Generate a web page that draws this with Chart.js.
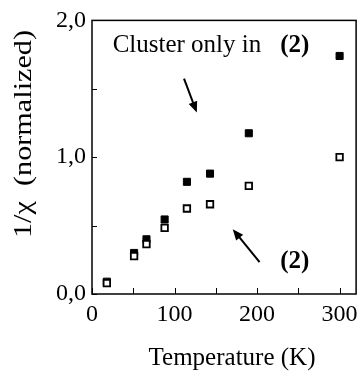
<!DOCTYPE html>
<html>
<head>
<meta charset="utf-8">
<script src="https://cdn.jsdelivr.net/npm/chart.js@4/dist/chart.umd.min.js"></script>
<style>
  html, body { margin: 0; padding: 0; background: #fff; }
  #wrap { width: 364px; height: 372px; }
</style>
</head>
<body>
<div id="wrap"><canvas id="grafico"></canvas></div>
<script>
// temperaturas (K) e 1/chi normalizado
const temperaturas = [18, 51, 66, 88, 115, 143, 190, 300];
const cheios = [0.09, 0.30, 0.40, 0.545, 0.82, 0.88, 1.175, 1.74];   // cluster (preenchido)
const abertos = [0.08, 0.277, 0.365, 0.483, 0.625, 0.656, 0.79, 1.0]; // (2) (vazio)
const ticksX = [0, 100, 200, 300];
const ticksY = [0, 1, 2];

const SERIF = '"Liberation Serif", serif';

const pontos = arr => arr.map((v, i) => ({ x: temperaturas[i], y: v }));

function seta(ctx, x1, y1, x2, y2) {
  const ang = Math.atan2(y2 - y1, x2 - x1);
  const len = 11, half = 4.5;
  ctx.beginPath();
  ctx.moveTo(x1, y1);
  ctx.lineTo(x2 - Math.cos(ang) * len * 0.8, y2 - Math.sin(ang) * len * 0.8);
  ctx.lineWidth = 2;
  ctx.stroke();
  ctx.beginPath();
  ctx.moveTo(x2, y2);
  ctx.lineTo(x2 - Math.cos(ang) * len - Math.sin(ang) * half, y2 - Math.sin(ang) * len + Math.cos(ang) * half);
  ctx.lineTo(x2 - Math.cos(ang) * len + Math.sin(ang) * half, y2 - Math.sin(ang) * len - Math.cos(ang) * half);
  ctx.closePath();
  ctx.fill();
}

// moldura, marcas internas, títulos e anotações
const extras = {
  id: 'extras',
  afterDraw(chart) {
    const { ctx, chartArea: a, scales } = chart;
    const sx = scales.x, sy = scales.y;
    ctx.save();
    ctx.strokeStyle = '#000';
    ctx.fillStyle = '#000';
    ctx.lineWidth = 1.5;
    ctx.strokeRect(a.left, a.top, a.right - a.left, a.bottom - a.top);

    ctx.lineWidth = 1;
    sx.ticks.forEach(t => {
      const px = Math.round(sx.getPixelForValue(t.value)) + 0.5;
      ctx.beginPath(); ctx.moveTo(px, a.bottom); ctx.lineTo(px, a.bottom - 6); ctx.stroke();
    });
    sy.ticks.forEach(t => {
      const py = Math.round(sy.getPixelForValue(t.value)) + 0.5;
      ctx.beginPath(); ctx.moveTo(a.left, py); ctx.lineTo(a.left + 5, py); ctx.stroke();
    });

    // títulos dos eixos
    ctx.font = '25px ' + SERIF;
    ctx.textAlign = 'center';
    ctx.textBaseline = 'alphabetic';
    ctx.fillText('Temperature (K)', 232, 365);

    ctx.save();
    ctx.translate(31, 134);
    ctx.rotate(-Math.PI / 2);
    ctx.font = '25px ' + SERIF;
    const tituloY = '1/\u03c7  (normalized)';
    const w = ctx.measureText(tituloY).width;
    ctx.scale(208 / w, 1);
    ctx.fillText(tituloY, 0, 0);
    ctx.restore();

    // anotações
    ctx.textAlign = 'left';
    ctx.font = '25px ' + SERIF;
    ctx.fillText('Cluster only in', sx.getPixelForValue(25), sy.getPixelForValue(1.77));
    ctx.font = 'bold 25px ' + SERIF;
    ctx.fillText('(2)', sx.getPixelForValue(228), sy.getPixelForValue(1.77));
    ctx.fillText('(2)', sx.getPixelForValue(228), sy.getPixelForValue(0.19));

    seta(ctx, sx.getPixelForValue(111.5), sy.getPixelForValue(1.574),
              sx.getPixelForValue(127), sy.getPixelForValue(1.326));
    seta(ctx, sx.getPixelForValue(203), sy.getPixelForValue(0.233),
              sx.getPixelForValue(170.5), sy.getPixelForValue(0.474));
    ctx.restore();
  }
};

new Chart(document.getElementById('grafico'), {
  type: 'scatter',
  data: {
    datasets: [
      {
        label: '(2)',
        data: pontos(abertos),
        pointStyle: 'rect',
        pointRadius: 4.6,
        pointHoverRadius: 4.6,
        backgroundColor: '#fff',
        borderColor: '#000',
        borderWidth: 1.8
      },
      {
        label: 'Cluster',
        data: pontos(cheios),
        pointStyle: 'rect',
        pointRadius: 5,
        pointHoverRadius: 5,
        backgroundColor: '#000',
        borderColor: '#000',
        borderWidth: 1
      }
    ]
  },
  options: {
    responsive: true,
    maintainAspectRatio: false,
    animation: false,
    events: [],
    layout: { padding: { top: 19, right: 3, left: 0, bottom: 0 } },
    plugins: { legend: { display: false }, tooltip: { enabled: false } },
    scales: {
      x: {
        type: 'linear',
        min: 0,
        max: 320,
        grid: { display: false, drawTicks: false },
        border: { display: false },
        afterFit: s => { s.height = 78; },
        ticks: {
          stepSize: 50,
          includeBounds: false,
          padding: 6,
          color: '#000',
          font: { family: SERIF, size: 24 },
          maxRotation: 0,
          autoSkip: false,
          callback: v => ticksX.includes(v) ? String(v) : ''
        }
      },
      y: {
        min: 0,
        max: 2,
        grid: { display: false, drawTicks: false },
        border: { display: false },
        afterFit: s => { s.width = 92; },
        ticks: {
          stepSize: 0.5,
          padding: 6,
          color: '#000',
          font: { family: SERIF, size: 24 },
          autoSkip: false,
          callback: v => ticksY.includes(v) ? v.toFixed(1).replace('.', ',') : ''
        }
      }
    }
  },
  plugins: [extras]
});
</script>
</body>
</html>
